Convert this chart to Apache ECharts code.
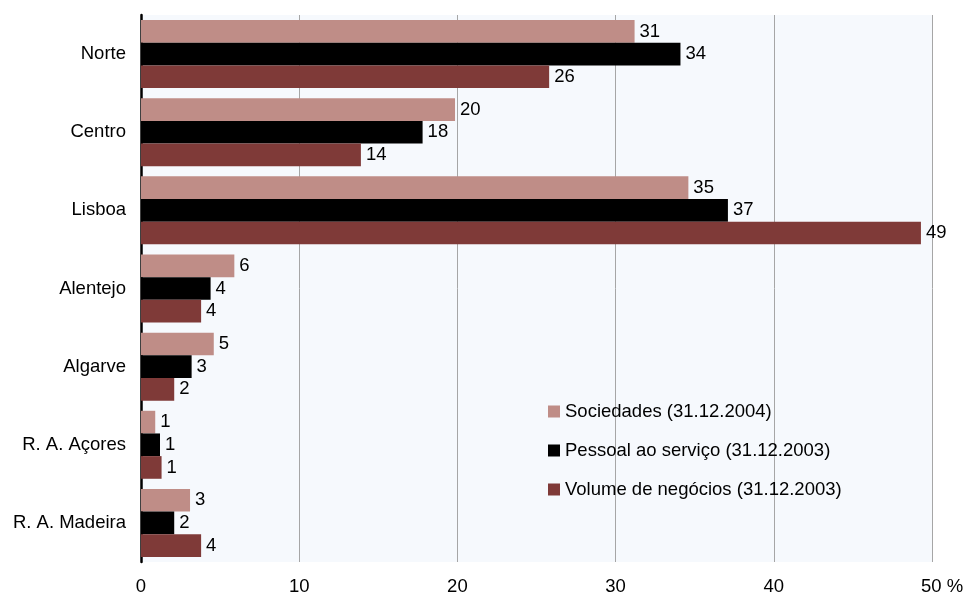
<!DOCTYPE html>
<html>
<head>
<meta charset="utf-8">
<script src="https://cdn.jsdelivr.net/npm/echarts@6/dist/echarts.min.js"></script>
<style>html,body{margin:0;padding:0;background:#fff}#c{width:964px;height:594px}</style>
</head>
<body>
<div id="c"></div>
<script>
const categories = ['Norte', 'Centro', 'Lisboa', 'Alentejo', 'Algarve', 'R. A. Açores', 'R. A. Madeira'];
const seriesNames = ['Sociedades (31.12.2004)', 'Pessoal ao serviço (31.12.2003)', 'Volume de negócios (31.12.2003)'];
const sociedades = [31.2, 19.85, 34.6, 5.9, 4.6, 0.9, 3.1];
const pessoal = [34.1, 17.8, 37.1, 4.4, 3.2, 1.2, 2.1];
const volume = [25.8, 13.9, 49.3, 3.8, 2.1, 1.3, 3.8];
const xTicks = [0, 10, 20, 30, 40, 50];
const colors = ['#bf8d87', '#000000', '#7f3a38'];

const chart = echarts.init(document.getElementById('c'));
const font = 'Liberation Sans, Arial, sans-serif';
const fs = 18.5;
function mk(name, data, color) {
  return {
    name: name, type: 'bar', data: data,
    itemStyle: { color: color },
    barGap: '0%', barCategoryGap: '13%',
    label: {
      show: true, position: 'right', distance: 5,
      color: '#000', fontSize: fs, fontFamily: font,
      formatter: p => String(Math.round(p.value))
    }
  };
}
chart.setOption({
  animation: false,
  textStyle: { fontFamily: font },
  grid: {
    left: 141, right: 32, top: 15, bottom: 32,
    outerBoundsMode: 'none', containLabel: false,
    show: true, backgroundColor: '#f6f9fd', borderWidth: 0
  },
  legend: {
    orient: 'vertical', left: 548, top: 402, itemGap: 20, padding: 0,
    itemWidth: 12, itemHeight: 12, icon: 'rect',
    textStyle: { fontSize: fs, color: '#000', fontFamily: font },
    data: seriesNames
  },
  xAxis: {
    type: 'value', min: xTicks[0], max: xTicks[xTicks.length - 1], interval: 10,
    axisLine: { show: false }, axisTick: { show: false },
    splitLine: { show: true, lineStyle: { color: '#a6a6a6', width: 1 } },
    axisLabel: {
      fontSize: fs, color: '#000', fontFamily: font, margin: 15,
      formatter: v => v === 50 ? '{p|50 %}' : String(v),
      rich: { p: { fontSize: fs, color: '#000', fontFamily: font, padding: [0, 0, 0, 20] } }
    }
  },
  yAxis: {
    type: 'category', data: categories, inverse: true,
    axisLine: { show: true, lineStyle: { color: '#000', width: 2.5 } },
    axisTick: { show: false },
    axisLabel: { fontSize: fs, color: '#000', fontFamily: font, margin: 15 }
  },
  series: [
    mk(seriesNames[0], sociedades, colors[0]),
    mk(seriesNames[1], pessoal, colors[1]),
    mk(seriesNames[2], volume, colors[2])
  ]
});
</script>
</body>
</html>
